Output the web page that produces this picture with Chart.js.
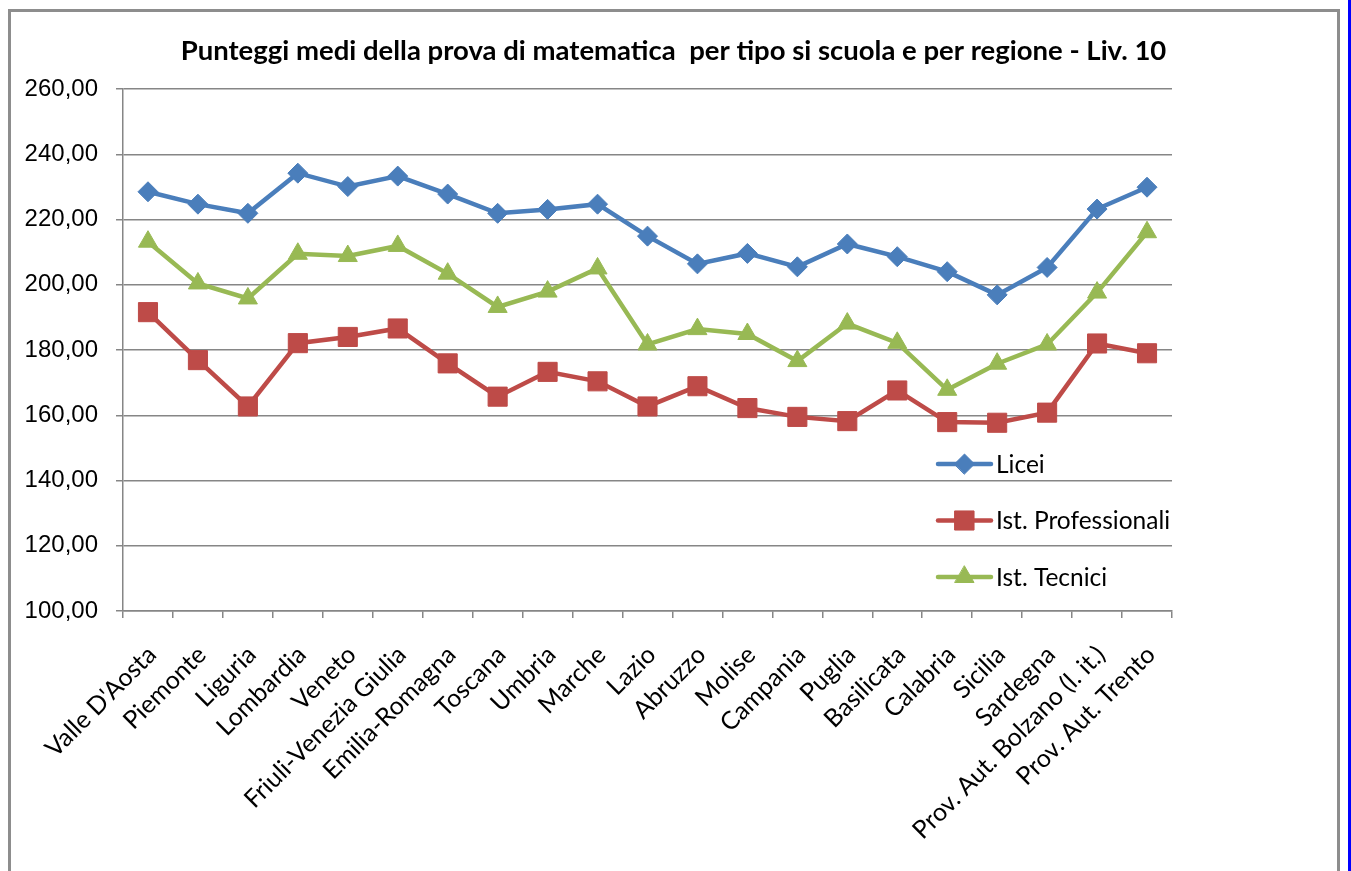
<!DOCTYPE html>
<html>
<head>
<meta charset="utf-8">
<script src="https://cdn.jsdelivr.net/npm/chart.js@4.4.1/dist/chart.umd.min.js"></script>
<style>
html,body{margin:0;padding:0;background:#fff;overflow:hidden;}
#wrap{position:relative;width:1351px;height:871px;}
#frame{position:absolute;left:8px;top:9px;width:1332px;height:900px;border:3px solid #8d8d8d;box-sizing:border-box;pointer-events:none;}
#blue{position:absolute;left:1348px;top:0;width:3px;height:871px;background:#0000ff;}
canvas{position:absolute;left:0;top:0;}
</style>
</head>
<body>
<div id="wrap">
  <canvas id="c" width="1351" height="871"></canvas>
  <div id="frame"></div>
  <div id="blue"></div>
</div>
<script>
const categories = ["Valle D'Aosta","Piemonte","Liguria","Lombardia","Veneto","Friuli-Venezia Giulia","Emilia-Romagna","Toscana","Umbria","Marche","Lazio","Abruzzo","Molise","Campania","Puglia","Basilicata","Calabria","Sicilia","Sardegna","Prov. Aut. Bolzano (l. it.)","Prov. Aut. Trento"];
const liceiValues = [228.5,224.7,221.9,234.2,230.1,233.3,227.8,221.9,223.1,224.7,214.9,206.4,209.6,205.5,212.5,208.6,204.0,196.9,205.3,223.2,229.9];
const professionaliValues = [191.6,176.9,162.7,182.1,184.0,186.6,175.9,165.7,173.3,170.4,162.7,168.9,162.2,159.5,158.2,167.6,157.9,157.7,160.8,182.0,179.0];
const tecniciValues = [213.2,200.4,195.8,209.5,208.8,211.9,203.4,193.2,197.9,205.0,181.7,186.4,184.9,176.6,188.1,182.2,167.8,175.8,181.7,197.6,216.1];
const seriesNames = ["Licei","Ist. Professionali","Ist. Tecnici"];
const yTickValues = [100,120,140,160,180,200,220,240,260];
const yTickLabels = ["100,00","120,00","140,00","160,00","180,00","200,00","220,00","240,00","260,00"];
const titleText = "Punteggi medi della prova di matematica  per tipo si scuola e per regione - Liv. 10";

const colors = ["#4A7EBB","#BE4B48","#98B954"];
const styles = ["rectRot","rect","triangle"];
const radii = [10,13.5,11];

function makeDataset(i, values){
  return {
    label: seriesNames[i],
    data: values,
    borderColor: colors[i],
    backgroundColor: colors[i],
    borderWidth: 4.5,
    pointStyle: styles[i],
    pointRadius: radii[i],
    pointBorderWidth: 1,
    pointBorderColor: colors[i],
    pointBackgroundColor: colors[i],
    tension: 0,
    fill: false
  };
}

const titlePlugin = {
  id: 'customTitle',
  afterDraw(chart){
    const ctx = chart.ctx;
    ctx.save();
    ctx.font = 'bold 27.5px Lato';
    ctx.fillStyle = '#000';
    ctx.textAlign = 'center';
    ctx.textBaseline = 'middle';
    ctx.fillText(titleText, 673.5, 51);
    ctx.restore();
  }
};

const legendPlugin = {
  id: 'customLegend',
  afterDraw(chart){
    const ctx = chart.ctx;
    const rows = [464, 520.5, 577];
    chart.data.datasets.forEach((ds, i) => {
      const y = rows[i];
      ctx.save();
      ctx.strokeStyle = ds.borderColor;
      ctx.lineWidth = 4.5;
      ctx.lineCap = 'round';
      ctx.beginPath();
      ctx.moveTo(938, y);
      ctx.lineTo(991, y);
      ctx.stroke();
      ctx.fillStyle = ds.pointBackgroundColor;
      ctx.strokeStyle = ds.pointBorderColor;
      ctx.lineWidth = 1;
      Chart.helpers.drawPoint(ctx, {pointStyle: ds.pointStyle, radius: ds.pointRadius, rotation: 0, borderWidth: 1}, 964.5, y);
      ctx.font = '24.5px Lato';
      ctx.fillStyle = '#000';
      ctx.textAlign = 'left';
      ctx.textBaseline = 'middle';
      ctx.fillText(ds.label, 996, y + 1);
      ctx.restore();
    });
  }
};

new Chart(document.getElementById('c'), {
  type: 'line',
  data: {
    labels: categories,
    datasets: [
      makeDataset(0, liceiValues),
      makeDataset(1, professionaliValues),
      makeDataset(2, tecniciValues)
    ]
  },
  options: {
    responsive: false,
    animation: false,
    layout: { padding: { left: 0, top: 89, right: 179, bottom: 0 } },
    plugins: { legend: { display: false }, title: { display: false }, tooltip: { enabled: false } },
    scales: {
      x: {
        offset: true,
        grid: { offset: true, drawOnChartArea: false, drawTicks: true, tickLength: 7, color: '#868686', lineWidth: 1.5 },
        border: { display: true, color: '#868686', width: 1.5 },
        ticks: { autoSkip: false, maxRotation: 45, minRotation: 45, padding: 22, labelOffset: 4, color: '#000', font: { family: 'Lato', size: 25 } },
        afterFit: s => { s.height = 260; }
      },
      y: {
        min: 100, max: 260,
        afterBuildTicks: s => { s.ticks = yTickValues.map(v => ({ value: v })); },
        grid: { color: '#868686', lineWidth: 1.5, tickLength: 7, drawTicks: true },
        border: { display: true, color: '#868686', width: 1.5 },
        ticks: { padding: 18, color: '#000', font: { family: 'Liberation Sans', size: 24 }, callback: (v, i) => yTickLabels[i] },
        afterFit: s => { s.width = 123; }
      }
    }
  },
  plugins: [titlePlugin, legendPlugin]
});
</script>
</body>
</html>
